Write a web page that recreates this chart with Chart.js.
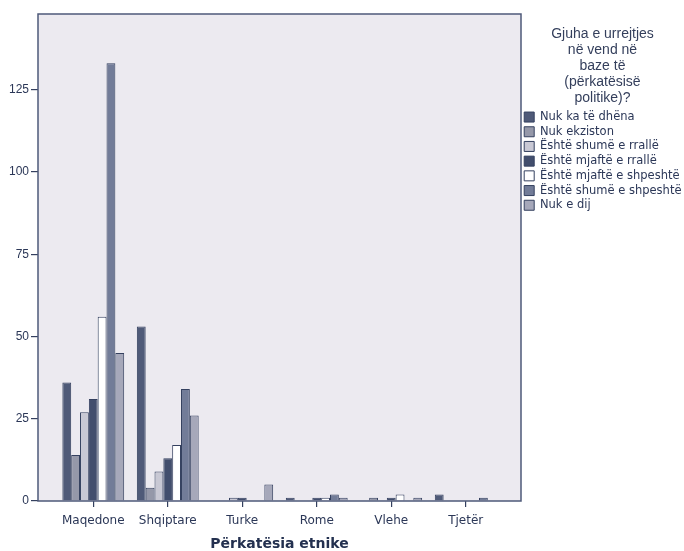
<!DOCTYPE html>
<html>
<head>
<meta charset="utf-8">
<script src="https://cdn.jsdelivr.net/npm/chart.js@4/dist/chart.umd.min.js"></script>
<style>
  html, body { margin: 0; padding: 0; background: #ffffff; }
  #wrap { width: 684px; height: 551px; }
</style>
</head>
<body>
<div id="wrap"><canvas id="chart" width="684" height="551"></canvas></div>
<script>
// kategorite (boshti x)
const categories = ['Maqedone', 'Shqiptare', 'Turke', 'Rome', 'Vlehe', 'Tjetër'];
const yTicks = [0, 25, 50, 75, 100, 125];

// seritë - një vlerë për çdo kategori
const nukKaTeDhena      = [36, 53, 0, 1, 0, 2];
const nukEkziston       = [14, 4, 0, 0, 1, 0];
const shumeERralle      = [27, 9, 1, 0, 0, 0];
const mjafteERralle     = [31, 13, 1, 1, 1, 0];
const mjafteEShpeshte   = [56, 17, 0, 1, 2, 0];
const shumeEShpeshte    = [133, 34, 0, 2, 0, 1];
const nukEDij           = [45, 26, 5, 1, 1, 0];

const seriesNames = ['Nuk ka të dhëna', 'Nuk ekziston', 'Është shumë e rrallë', 'Është mjaftë e rrallë',
  'Është mjaftë e shpeshtë', 'Është shumë e shpeshtë', 'Nuk e dij'];
const seriesValues = [nukKaTeDhena, nukEkziston, shumeERralle, mjafteERralle, mjafteEShpeshte, shumeEShpeshte, nukEDij];
const seriesColors = ['#4f5a78', '#9598a9', '#c8c8d4', '#424e6d', '#ffffff', '#727c98', '#a6a8ba'];

const legendTitle = ['Gjuha e urrejtjes', 'në vend në', 'baze të', '(përkatësisë', 'politike)?'];

const ink = '#2b3757';

// sfondi dhe korniza e zonës së grafikut
const framePlugin = {
  id: 'frame',
  beforeDraw(chart) {
    const a = chart.chartArea;
    const ctx = chart.ctx;
    ctx.save();
    ctx.fillStyle = '#ecEAF0';
    ctx.fillRect(a.left, a.top, a.right - a.left, a.bottom - a.top);
    ctx.restore();
  },
  afterDatasetsDraw(chart) {
    const a = chart.chartArea;
    const ctx = chart.ctx;
    ctx.save();
    ctx.strokeStyle = '#4e5979';
    ctx.lineWidth = 1.5;
    ctx.strokeRect(a.left, a.top, a.right - a.left, a.bottom - a.top);
    ctx.restore();
  }
};

new Chart(document.getElementById('chart'), {
  type: 'bar',
  data: {
    labels: categories.map((c, i) => i),
    datasets: seriesNames.map((name, i) => ({
      label: name,
      data: seriesValues[i],
      backgroundColor: seriesColors[i],
      borderColor: '#34405f',
      borderWidth: 1,
      categoryPercentage: 0.83,
      barPercentage: 1
    }))
  },
  options: {
    responsive: false,
    animation: false,
    layout: { padding: { top: 14, left: 0, right: 0, bottom: 0 } },
    plugins: {
      tooltip: { enabled: false },
      legend: {
        position: 'right',
        align: 'start',
        maxWidth: 163,
        title: {
          display: true,
          text: legendTitle,
          position: 'center',
          color: '#343f5c',
          font: { family: 'Liberation Sans', size: 14, lineHeight: 1.15 },
          padding: { top: 13, bottom: 65 }
        },
        labels: {
          boxWidth: 10,
          boxHeight: 10,
          padding: 3.2,
          color: ink,
          font: { family: 'DejaVu Sans', size: 11.5 }
        }
      }
    },
    scales: {
      x: {
        type: 'linear',
        bounds: 'data',
        offset: false,
        min: -0.742,
        max: 5.742,
        afterFit(scale) { scale.height = 50; },
        afterBuildTicks(scale) { scale.ticks = categories.map((c, i) => ({ value: i })); },
        border: { display: false },
        grid: { offset: false, drawOnChartArea: false, tickLength: 6, color: '#34405f', lineWidth: 1.2 },
        ticks: {
          autoSkip: false,
          maxRotation: 0,
          padding: 7,
          color: ink,
          font: { family: 'DejaVu Sans', size: 12 },
          callback: v => categories[v] !== undefined ? categories[v] : ''
        },
        title: {
          display: true,
          text: 'Përkatësia etnike',
          color: '#23304f',
          font: { family: 'DejaVu Sans', size: 14, weight: 'bold', lineHeight: 1 },
          padding: { top: 4, bottom: 0 }
        }
      },
      y: {
        bounds: 'data',
        min: 0,
        max: 148,
        afterFit(scale) { scale.width = 38; },
        afterBuildTicks(scale) { scale.ticks = yTicks.map(v => ({ value: v })); },
        border: { display: false },
        grid: { drawOnChartArea: false, tickLength: 7, color: '#34405f', lineWidth: 1.2 },
        ticks: {
          padding: 2,
          color: ink,
          font: { family: 'Liberation Sans', size: 12 }
        }
      }
    }
  },
  plugins: [framePlugin]
});
</script>
</body>
</html>
